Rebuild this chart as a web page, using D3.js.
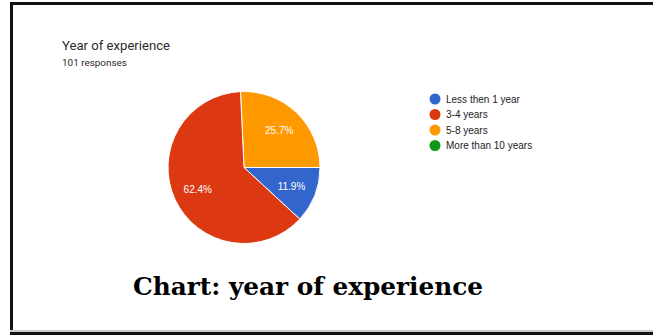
<!DOCTYPE html>
<html>
<head>
<meta charset="utf-8">
<script src="https://cdn.jsdelivr.net/npm/d3@7"></script>
<style>
  html, body { margin: 0; padding: 0; background: #fff; }
  svg { display: block; }
</style>
</head>
<body>
<div id="chart"></div>
<script>
// data
const categories = ['Less then 1 year', '3-4 years', '5-8 years', 'More than 10 years'];
const counts     = [12, 63, 26, 0];
const percents   = ['11.9%', '62.4%', '25.7%', ''];
const colors     = ['#3366cc', '#dc3912', '#ff9900', '#109618'];
const sliceOrder = [2, 0, 1, 3]; // clockwise from top as drawn
const title      = 'Year of experience';
const subtitle   = '101 responses';
const caption    = 'Chart: year of experience';

;(function(){
  const W = 653, H = 335;
  const svg = d3.select('#chart').append('svg')
    .attr('width', W).attr('height', H);

  // frame
  svg.append('rect').attr('x', 10).attr('y', 2).attr('width', W - 10).attr('height', 3).attr('fill', '#111');
  svg.append('rect').attr('x', 10).attr('y', 2).attr('width', 3).attr('height', H - 2).attr('fill', '#111');
  svg.append('rect').attr('x', 10).attr('y', 330).attr('width', W - 10).attr('height', 2).attr('fill', '#ccc');
  svg.append('rect').attr('x', 10).attr('y', 332).attr('width', W - 10).attr('height', 3).attr('fill', '#111');

  svg.append('text')
    .attr('x', 62).attr('y', 49.5)
    .attr('font-family', 'Roboto, Arial, sans-serif')
    .attr('font-size', 12.5).attr('fill', '#2a2a2a')
    .attr('textLength', 108).attr('lengthAdjust', 'spacingAndGlyphs')
    .text(title);
  svg.append('text')
    .attr('x', 62).attr('y', 65.5)
    .attr('font-family', 'Roboto, Arial, sans-serif')
    .attr('font-size', 9.8).attr('fill', '#2a2a2a')
    .attr('textLength', 65).attr('lengthAdjust', 'spacingAndGlyphs')
    .text(subtitle);

  // pie
  const cx = 244, cy = 167.5, r = 76;
  const total = d3.sum(counts);
  const rows = sliceOrder.map(i => ({i, v: counts[i]}));
  const start = Math.PI / 2 - 2 * Math.PI * counts[sliceOrder[0]] / total;
  const pie = d3.pie().sort(null).value(d => d.v)
    .startAngle(start).endAngle(start + 2 * Math.PI);
  const arcs = pie(rows);
  const arc = d3.arc().innerRadius(0).outerRadius(r);
  const labelArc = d3.arc().innerRadius(51).outerRadius(51);

  const g = svg.append('g').attr('transform', `translate(${cx},${cy})`);
  g.selectAll('path').data(arcs.filter(d => d.data.v > 0)).enter().append('path')
    .attr('d', arc)
    .attr('fill', d => colors[d.data.i])
    .attr('stroke', '#fff').attr('stroke-width', 1);
  g.selectAll('text').data(arcs.filter(d => d.data.v > 0)).enter().append('text')
    .attr('transform', d => `translate(${labelArc.centroid(d)})`)
    .attr('text-anchor', 'middle').attr('dy', '0.35em')
    .attr('font-family', 'Arial, "Liberation Sans", sans-serif')
    .attr('font-size', 10).attr('fill', '#fff')
    .text(d => percents[d.data.i]);

  // legend
  const ly = d3.scalePoint().domain(categories).range([99, 145.5]);
  const leg = svg.append('g').selectAll('g').data(categories).enter().append('g')
    .attr('transform', d => `translate(435,${ly(d)})`);
  leg.append('circle').attr('r', 5.5).attr('fill', (d, i) => colors[i]);
  leg.append('text').attr('x', 11).attr('dy', '0.35em')
    .attr('font-family', 'Arial, "Liberation Sans", sans-serif')
    .attr('font-size', 10).attr('fill', '#222')
    .text(d => d);

  // caption
  svg.append('text')
    .attr('x', 133).attr('y', 295)
    .attr('font-family', '"DejaVu Serif", serif')
    .attr('font-weight', 'bold')
    .attr('font-size', 24).attr('fill', '#000')
    .attr('textLength', 350).attr('lengthAdjust', 'spacingAndGlyphs')
    .text(caption);
})();
</script>
</body>
</html>
